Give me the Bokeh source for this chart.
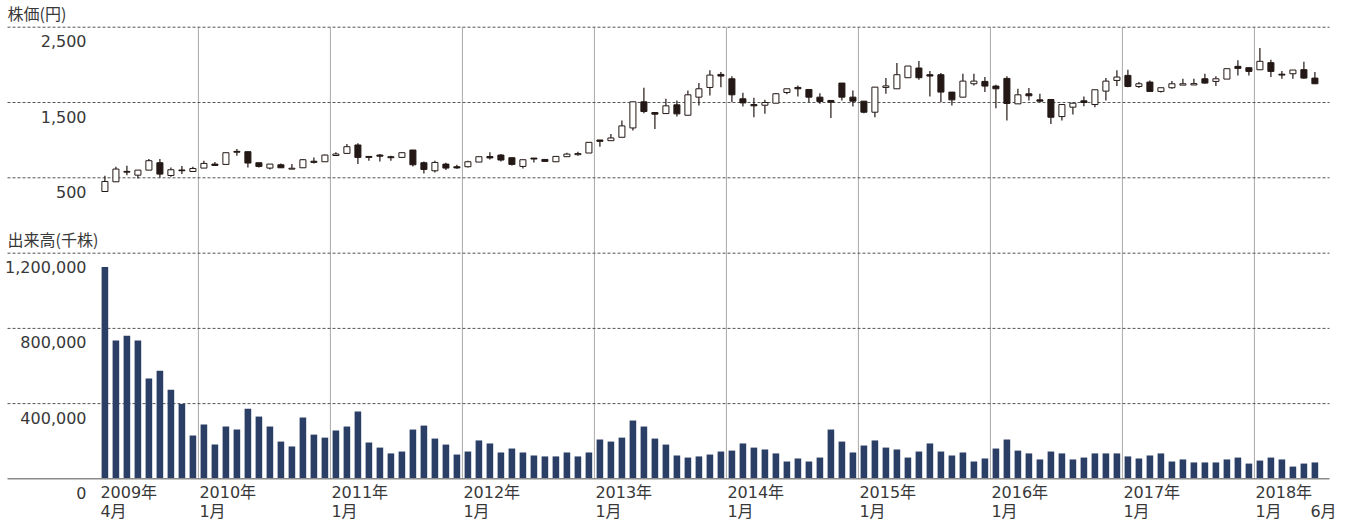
import pandas as pd
from bokeh.plotting import figure
from bokeh.models import Range1d, ColumnDataSource
from bokeh.core.properties import value
from bokeh.embed import file_html
from bokeh.resources import INLINE

# ---------------- data ----------------
months = pd.date_range("2009-04-01", periods=111, freq="MS")

opens = [318, 447, 585, 535, 602, 700, 531, 604, 584, 629, 682, 678, 851, 847, 700, 629, 673, 615, 633, 720,
         713, 796, 824, 936, 784, 802, 780, 771, 869, 700, 593, 682, 647, 647, 709, 782, 802, 767, 651, 762,
         744, 713, 780, 807, 829, 1002, 993, 1038, 1162, 1509, 1367, 1353, 1469, 1331, 1571, 1700, 1873, 1815, 1549, 1473,
         1464, 1491, 1633, 1700, 1673, 1571, 1527, 1758, 1571, 1518, 1371, 1700, 1682, 1829, 1958, 1869, 1869, 1638, 1571, 1749,
         1780, 1718, 1820, 1482, 1615, 1535, 1540, 1313, 1438, 1522, 1473, 1651, 1793, 1860, 1713, 1771, 1647, 1696, 1731, 1733,
         1815, 1780, 1811, 1980, 1962, 1935, 2029, 1876, 1882, 1936, 1824]
highs = [527, 647, 660, 602, 749, 749, 638, 656, 647, 727, 709, 833, 882, 847, 700, 682, 691, 682, 749, 771,
         810, 840, 949, 958, 784, 816, 793, 840, 869, 718, 727, 700, 673, 727, 780, 838, 816, 767, 740, 762,
         749, 784, 833, 847, 971, 1002, 1082, 1260, 1509, 1695, 1367, 1549, 1527, 1660, 1758, 1927, 1904, 1847, 1629, 1562,
         1535, 1627, 1682, 1727, 1673, 1624, 1527, 1758, 1660, 1518, 1704, 1824, 2024, 1984, 2051, 1918, 1891, 1638, 1882, 1882,
         1838, 1736, 1847, 1682, 1691, 1615, 1540, 1473, 1491, 1580, 1669, 1824, 1927, 1936, 1771, 1793, 1696, 1784, 1815, 1815,
         1882, 1847, 1949, 2060, 1962, 2224, 2069, 1918, 1931, 2042, 1904]
lows = [318, 443, 535, 491, 602, 504, 513, 549, 584, 629, 664, 678, 793, 638, 638, 611, 629, 615, 633, 690,
        713, 796, 824, 682, 727, 718, 727, 771, 651, 558, 571, 602, 620, 638, 709, 744, 718, 664, 624, 704,
        718, 713, 780, 793, 829, 913, 993, 1038, 1127, 1358, 1149, 1353, 1313, 1331, 1460, 1593, 1704, 1504, 1447, 1304,
        1349, 1491, 1610, 1580, 1504, 1482, 1295, 1527, 1447, 1358, 1304, 1615, 1682, 1829, 1802, 1580, 1504, 1460, 1571, 1727,
        1638, 1424, 1260, 1482, 1527, 1504, 1215, 1260, 1340, 1451, 1438, 1527, 1718, 1704, 1691, 1647, 1633, 1682, 1731, 1733,
        1749, 1718, 1811, 1860, 1860, 1935, 1838, 1816, 1816, 1816, 1749]
closes = [451, 616, 575, 602, 727, 549, 607, 594, 624, 691, 664, 833, 840, 696, 651, 682, 633, 627, 740, 705,
          802, 816, 913, 771, 771, 787, 767, 833, 673, 611, 704, 629, 631, 713, 780, 764, 736, 678, 740, 749,
          718, 784, 815, 822, 971, 984, 1029, 1189, 1509, 1380, 1345, 1456, 1349, 1602, 1682, 1864, 1851, 1602, 1495, 1456,
          1500, 1616, 1682, 1682, 1571, 1513, 1504, 1571, 1518, 1371, 1704, 1720, 1869, 1984, 1829, 1851, 1638, 1535, 1784, 1784,
          1718, 1682, 1487, 1602, 1589, 1518, 1304, 1473, 1491, 1500, 1669, 1784, 1838, 1713, 1749, 1647, 1696, 1749, 1749, 1751,
          1758, 1815, 1949, 1953, 1913, 2047, 1913, 1864, 1931, 1824, 1749]
volumes = [1127000, 735000, 761000, 735000, 533000, 575000, 474000, 398000, 230000, 289000,
           182000, 278000, 262000, 373000, 331000, 278000, 198000, 172000, 326000, 235000,
           219000, 257000, 278000, 358000, 193000, 166000, 135000, 145000, 262000, 283000,
           214000, 182000, 129000, 145000, 204000, 188000, 140000, 161000, 140000, 124000,
           119000, 119000, 140000, 119000, 140000, 209000, 198000, 219000, 310000, 278000,
           214000, 182000, 124000, 113000, 119000, 129000, 145000, 150000, 188000, 166000,
           156000, 135000, 92000, 108000, 92000, 113000, 262000, 198000, 140000, 177000,
           204000, 166000, 156000, 113000, 145000, 188000, 145000, 124000, 140000, 92000,
           108000, 161000, 209000, 150000, 135000, 103000, 145000, 135000, 103000, 113000,
           135000, 135000, 135000, 119000, 108000, 124000, 135000, 92000, 103000, 87000,
           87000, 87000, 103000, 113000, 81000, 97000, 113000, 103000, 65000, 81000, 87000]

price_ticks = [500, 1500, 2500]
price_tick_labels = ["500", "1,500", "2,500"]
volume_ticks = [0, 400000, 800000, 1200000]
volume_tick_labels = ["0", "400,000", "800,000", "1,200,000"]
price_title = "株価(円)"
volume_title = "出来高(千株)"
year_labels = [f"{d.year}年" for d in months if d.month == 1 or d == months[0]]
month_labels = [f"{d.month}月" for d in months if d.month == 1 or d == months[0]]
last_label = f"{months[-1].month}月"

# ---------------- layout ----------------
W, H = 1351, 522
n = len(months)
xs = list(range(n))
px_per_month = 11.0
first_center = 104.4           # px from frame left
x_start = -first_center / px_per_month
x_end = x_start + W / px_per_month

vpp = 1200000 / 225.6          # volume units per px
v_base_px = 478.3              # px of volume zero from top
v_end = v_base_px * vpp
v_start = v_end - H * vpp

ppp = 2000 / 150.6             # price units per px
p500_px = 177.3
p_end = 500 + p500_px * ppp
p_start = p_end - H * ppp
p_base = p_start + (0 - v_start) / (v_end - v_start) * (p_end - p_start)

grid_left = x_start + 7 / px_per_month
grid_right = n + 0.33
INK = "#231815"
TEXT = "#383838"
NAVY = "#2b3e66"
FONT = value("DejaVu Sans, Noto Sans CJK JP")
CJK_FONT = value("Noto Sans CJK JP")

p = figure(width=W, height=H, x_range=Range1d(x_start, x_end), y_range=Range1d(v_start, v_end),
           output_backend="svg", toolbar_location=None, x_axis_location=None, y_axis_location=None,
           min_border=0, outline_line_color=None)
p.extra_y_ranges = {"price": Range1d(p_start, p_end)}
p.grid.visible = False

# year separators
year_x = [i - 0.5 for i, d in enumerate(months) if d.month == 1]
p.segment(x0=year_x, y0=[max(price_ticks)] * len(year_x), x1=year_x, y1=[p_base] * len(year_x),
          y_range_name="price", line_color="#a8a8a8", line_width=1)

# dashed grids
p.segment(x0=[grid_left] * 3, y0=price_ticks, x1=[grid_right] * 3, y1=price_ticks,
          y_range_name="price", line_color="#555555", line_width=1, line_dash="3 2")
p.segment(x0=[grid_left] * 3, y0=volume_ticks[1:], x1=[grid_right] * 3, y1=volume_ticks[1:],
          line_color="#555555", line_width=1, line_dash="3 2")

# volume bars
p.vbar(x=xs, width=0.6, top=volumes, bottom=0, fill_color=NAVY, line_color=None)
p.segment(x0=[grid_left], y0=[0], x1=[grid_right], y1=[0], line_color="#8a8a8a", line_width=1.5)

# candles
src = ColumnDataSource(dict(
    x=xs, o=opens, h=highs, l=lows, c=closes,
    top=[max(a, b) for a, b in zip(opens, closes)],
    bot=[min(a, b) for a, b in zip(opens, closes)],
    fill=["white" if c >= o else INK for o, c in zip(opens, closes)],
))
p.segment(x0="x", y0="l", x1="x", y1="h", source=src, y_range_name="price", line_color=INK, line_width=1.2)
p.vbar(x="x", width=0.55, top="top", bottom="bot", source=src, y_range_name="price",
       fill_color="fill", line_color=INK, line_width=1)

# labels
common = dict(text_font=FONT, text_font_size="16px", text_color=TEXT)
title_style = dict(text_font=CJK_FONT, text_font_size="16px", text_color=TEXT)
p.text(x=[x_start] * 3, y=price_ticks, text=price_tick_labels, y_range_name="price",
       x_offset=86, y_offset=14, text_align="right", text_baseline="middle", **common)
p.text(x=[x_start] * 4, y=volume_ticks, text=volume_tick_labels,
       x_offset=86, y_offset=14, text_align="right", text_baseline="middle", **common)
p.text(x=[x_start], y=[max(price_ticks)], text=[price_title], y_range_name="price",
       x_offset=7, y_offset=-14, text_align="left", text_baseline="middle", **title_style)
p.text(x=[x_start], y=[max(volume_ticks)], text=[volume_title],
       x_offset=7, y_offset=-14, text_align="left", text_baseline="middle", **title_style)

label_x = [i - 0.5 for i, d in enumerate(months) if d.month == 1 or d == months[0]]
p.text(x=label_x, y=[0] * len(label_x), text=year_labels, x_offset=1, y_offset=14,
       text_align="left", text_baseline="middle", **common)
p.text(x=label_x + [n - 1.5], y=[0] * (len(label_x) + 1), text=month_labels + [last_label],
       x_offset=1, y_offset=33, text_align="left", text_baseline="middle", **common)

open("out.html", "w").write(file_html(p, INLINE))
